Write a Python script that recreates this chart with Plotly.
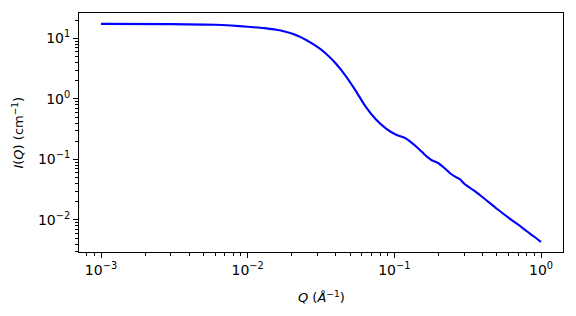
import plotly.graph_objects as go

# Scattering vector Q (1/Angstrom) and intensity I(Q) (1/cm)
q_values = [0.001, 0.003, 0.006, 0.0077, 0.01, 0.013, 0.0168, 0.0219, 0.0292, 0.0341,
            0.0399, 0.0467, 0.0546, 0.0639, 0.0747, 0.0874, 0.1022, 0.1164, 0.126,
            0.14, 0.15, 0.16, 0.17, 0.18, 0.2, 0.22, 0.24, 0.26, 0.28,
            0.3, 0.35, 0.4, 0.5, 0.6, 0.7, 0.8, 0.9, 1.0]
i_values = [17.4, 17.2, 16.8, 16.3, 15.6, 14.8, 13.5, 11.1, 7.52, 5.65,
            3.85, 2.39, 1.36, 0.738, 0.461, 0.327, 0.258, 0.230, 0.205,
            0.165, 0.142, 0.122, 0.107, 0.097, 0.0865, 0.0716, 0.0591, 0.0518, 0.0471,
            0.0397, 0.0304, 0.0237, 0.0153, 0.0109, 0.00834, 0.0065, 0.00527, 0.00433]

x_tick_vals = [0.001, 0.01, 0.1, 1]
x_tick_text = ["10<sup>−3</sup>", "10<sup>−2</sup>", "10<sup>−1</sup>", "10<sup>0</sup>"]
y_tick_vals = [0.01, 0.1, 1, 10]
y_tick_text = ["10<sup>−2</sup>", "10<sup>−1</sup>", "10<sup>0</sup>", "10<sup>1</sup>"]

fig = go.Figure()
fig.add_trace(go.Scatter(
    x=q_values, y=i_values, mode="lines",
    line=dict(color="#0000ff", width=2.1, shape="spline", smoothing=0.8),
    showlegend=False,
))

axis_common = dict(
    type="log", showgrid=False, zeroline=False,
    showline=True, linecolor="black", linewidth=1, mirror=True,
    ticks="outside", ticklen=5, tickwidth=1, tickcolor="black",
    tickfont=dict(family="DejaVu Sans", size=14, color="black"),
    minor=dict(ticks="outside", ticklen=3, tickwidth=0.8, tickcolor="black",
               dtick="D1", showgrid=False),
)

fig.update_xaxes(range=[-3.15, 0.15], tickvals=x_tick_vals, ticktext=x_tick_text,
                 **axis_common)
fig.update_yaxes(range=[-2.53, 1.42], tickvals=y_tick_vals, ticktext=y_tick_text,
                 **axis_common)

fig.update_layout(
    width=576, height=316,
    margin=dict(l=79, r=13, t=13, b=64),
    paper_bgcolor="white", plot_bgcolor="white",
    font=dict(family="DejaVu Sans", size=14, color="black"),
    annotations=[
        dict(text="<i>Q</i> (<i>Å</i><sup>−1</sup>)", xref="paper", yref="paper",
             x=0.5, y=-0.187, xanchor="center", yanchor="middle", showarrow=False,
             font=dict(size=13)),
        dict(text="<i>I</i>(<i>Q</i>) (cm<sup>−1</sup>)", xref="paper", yref="paper",
             x=-0.128, y=0.5, xanchor="center", yanchor="middle", showarrow=False,
             textangle=-90, font=dict(size=13)),
    ],
)

fig.write_html("out.html")
